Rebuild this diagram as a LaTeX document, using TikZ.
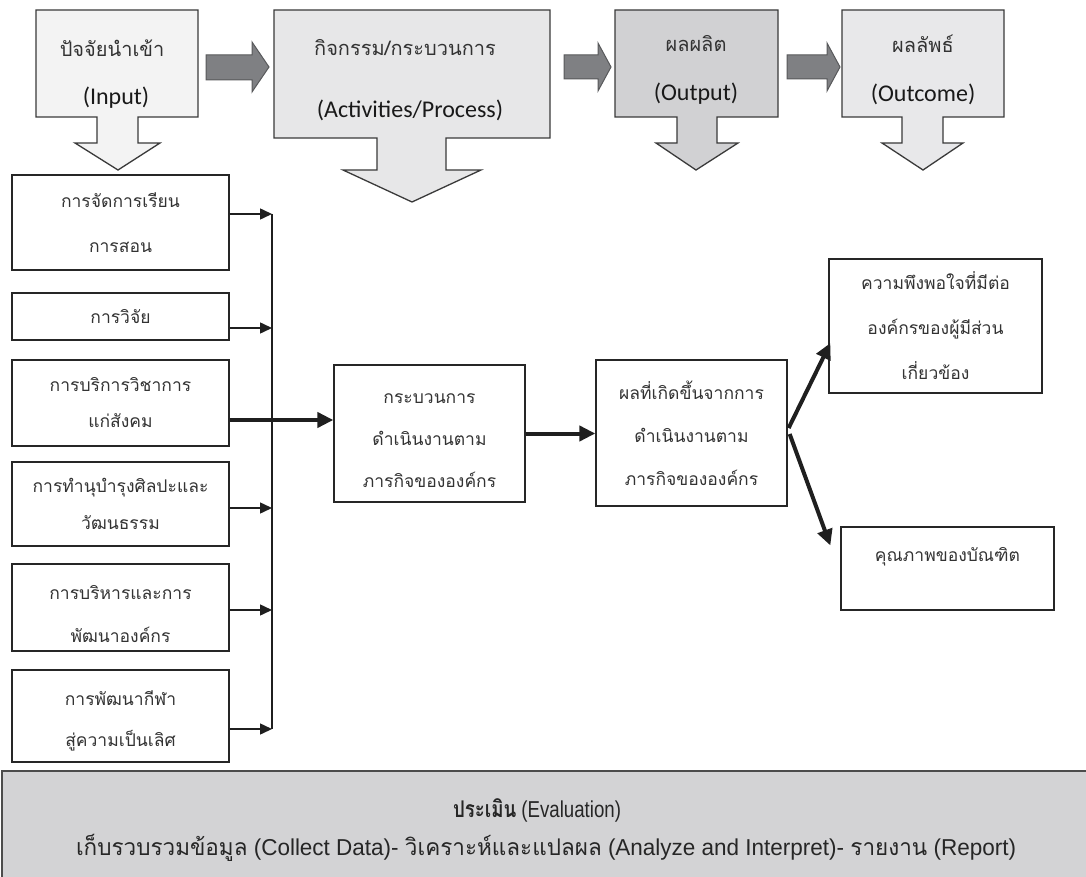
\documentclass[tikz,border=0pt]{standalone}
\usepackage{fontspec}
\usepackage{graphicx}
\setmainfont{Liberation Sans}
\newfontfamily\thai[Script=Thai]{Loma}
\newfontfamily\calib{Carlito}
\usetikzlibrary{arrows.meta,calc}
\definecolor{bordc}{HTML}{3A3A3A}
\definecolor{inpfill}{HTML}{F3F3F3}
\definecolor{actfill}{HTML}{E7E7E8}
\definecolor{outfill}{HTML}{D1D1D3}
\definecolor{ocfill}{HTML}{E8E8EA}
\definecolor{arrowg}{HTML}{7F8083}
\definecolor{arrowd}{HTML}{58595B}
\definecolor{evalfill}{HTML}{D3D3D5}
\tikzset{
  topshape/.style={draw=bordc, line width=1.3pt, line join=miter},
  harrow/.style={fill=arrowg, draw=arrowd, line width=1pt, line join=miter},
  thaitop/.style={font=\thai\fontsize{20}{24}\selectfont, text=black!80, inner sep=0pt},
  lattop/.style={font=\calib\fontsize{24}{28}\selectfont, text=black!90, inner sep=0pt},
  lbox/.style={draw=black!85, line width=1.3pt, align=center, inner sep=0pt, text=black!80},
  ltext/.style={align=center, inner sep=0pt, text=black!80},
  thinarrow/.style={draw=black!88, line width=1.5pt, -{Triangle[length=12pt,width=11pt]}},
  thickarrow/.style={draw=black!88, line width=4pt, -{Triangle[length=16pt,width=15pt]}},
  busline/.style={draw=black!88, line width=1.5pt}
}
\newcommand{\fsz}[1]{\thai\fontsize{17.5}{#1}\selectfont}
\newcommand{\evth}{\thai\fontsize{23}{26}\selectfont}
\begin{document}
\begin{tikzpicture}[x=1pt,y=-1pt]
\useasboundingbox (0,0) rectangle (1086,877);
\fill[white] (0,0) rectangle (1086,877);

% ---- top row: boxes with block arrows ----
\draw[topshape, fill=inpfill] (36,10) -- (198,10) -- (198,117) -- (138,117) -- (138,143) -- (160,143) -- (118,170) -- (75,143) -- (97,143) -- (97,117) -- (36,117) -- cycle;
\draw[topshape, fill=actfill] (274,10) -- (550,10) -- (550,138) -- (446,138) -- (446,170) -- (481,170) -- (412,202) -- (343,170) -- (377,170) -- (377,138) -- (274,138) -- cycle;
\draw[topshape, fill=outfill] (615,10) -- (778,10) -- (778,117) -- (717,117) -- (717,143) -- (738,143) -- (696,170) -- (656,143) -- (677,143) -- (677,117) -- (615,117) -- cycle;
\draw[topshape, fill=ocfill] (842,10) -- (1004,10) -- (1004,117) -- (943,117) -- (943,143) -- (963,143) -- (923,170) -- (882,143) -- (902,143) -- (902,117) -- (842,117) -- cycle;

\draw[harrow] (206,55) -- (252,55) -- (252,42) -- (269,67) -- (252,92) -- (252,80) -- (206,80) -- cycle;
\draw[harrow] (564,55) -- (598,55) -- (598,43) -- (611,67) -- (598,91) -- (598,79) -- (564,79) -- cycle;
\draw[harrow] (787,55) -- (827,55) -- (827,43) -- (840,67) -- (827,91) -- (827,79) -- (787,79) -- cycle;

\node[thaitop] (inth) at (112,48) {ปัจจัยนำเข้า};
\node[lattop] (inen) at (116,98) {(Input)};
\node[thaitop] (acth) at (405,48) {กิจกรรม/กระบวนการ};
\node[lattop] (acen) at (410,110) {(Activities/Process)};
\node[thaitop] (outh) at (696,44) {ผลผลิต};
\node[lattop] (outen) at (696,94) {(Output)};
\node[thaitop] (octh) at (923,44) {ผลลัพธ์};
\node[lattop] (ocen) at (923,94) {(Outcome)};

% ---- left column ----
\node[lbox, minimum width=217, minimum height=95, font=\fsz{45}] (b1) at (120.5,222.5) {การจัดการเรียน\\การสอน};
\node[lbox, minimum width=217, minimum height=47, font=\fsz{20}] (b2) at (120.5,316.5) {การวิจัย};
\node[lbox, minimum width=217, minimum height=86, font=\fsz{36}] (b3) at (120.5,403) {การบริการวิชาการ\\แก่สังคม};
\node[lbox, minimum width=217, minimum height=84, font=\fsz{37}] (b4) at (120.5,504) {การทำนุบำรุงศิลปะและ\\วัฒนธรรม};
\node[lbox, minimum width=217, minimum height=87] (b5) at (120.5,607.5) {};
\node[ltext, font=\fsz{43}] (b5t) at (120.5,614) {การบริหารและการ\\พัฒนาองค์กร};
\node[lbox, minimum width=217, minimum height=92] (b6) at (120.5,716) {};
\node[ltext, font=\fsz{41}] (b6t) at (120.5,721) {การพัฒนากีฬา\\สู่ความเป็นเลิศ};

\coordinate (j1) at (272,214);
\coordinate (j2) at (272,328);
\coordinate (j3) at (272,420);
\coordinate (j4) at (272,508);
\coordinate (j5) at (272,610);
\coordinate (j6) at (272,729);
\draw[busline] (j1) -- (j6);
\draw[thinarrow] (b1.east |- j1) -- (j1);
\draw[thinarrow] (b2.east |- j2) -- (j2);
\draw[thinarrow] (b4.east |- j4) -- (j4);
\draw[thinarrow] (b5.east |- j5) -- (j5);
\draw[thinarrow] (b6.east |- j6) -- (j6);

% ---- middle ----
\node[lbox, minimum width=191, minimum height=137] (p) at (429.5,433.5) {};
\node[ltext, font=\fsz{42}] (pt) at (429.5,441) {กระบวนการ\\ดำเนินงานตาม\\ภารกิจขององค์กร};
\node[lbox, minimum width=191, minimum height=146, font=\fsz{43}] (r) at (691.5,433) {ผลที่เกิดขึ้นจากการ\\ดำเนินงานตาม\\ภารกิจขององค์กร};
\draw[thickarrow] (b3.east |- j3) -- (p.west |- j3);
\draw[thickarrow] (p.east) -- (r.west |- p.east);

% ---- right ----
\node[lbox, minimum width=213, minimum height=134, font=\fsz{45}] (s) at (935.5,326) {ความพึงพอใจที่มีต่อ\\องค์กรของผู้มีส่วน\\เกี่ยวข้อง};
\node[lbox, minimum width=213, minimum height=83, font=\fsz{28}] (g) at (947.5,568.5) {คุณภาพของบัณฑิต\\\mbox{}};
\draw[thickarrow] ($(r.east)+(1,-5)$) -- ($(s.west)+(2,17)$);
\draw[thickarrow] ($(r.east)+(2,1)$) -- ($(g.west)+(-10,-23)$);

% ---- evaluation ----
\draw[draw=black!70, line width=1.5pt, fill=evalfill] (2,771) rectangle (1095,890);
\node[inner sep=0pt, text=black!85] (evt) at (537,810) {\resizebox{168pt}{\height}{\fontsize{23}{26}\selectfont{\thai\fontsize{23}{26}\selectfont\bfseries ประเมิน} (Evaluation)}};
\node[inner sep=0pt, text=black!85] (evl) at (546,848) {\resizebox{940pt}{\height}{\fontsize{23}{26}\selectfont{\evth เก็บรวบรวมข้อมูล} (Collect Data)- {\evth วิเคราะห์และแปลผล} (Analyze and Interpret)- {\evth รายงาน} (Report)}};
\end{tikzpicture}
\end{document}
